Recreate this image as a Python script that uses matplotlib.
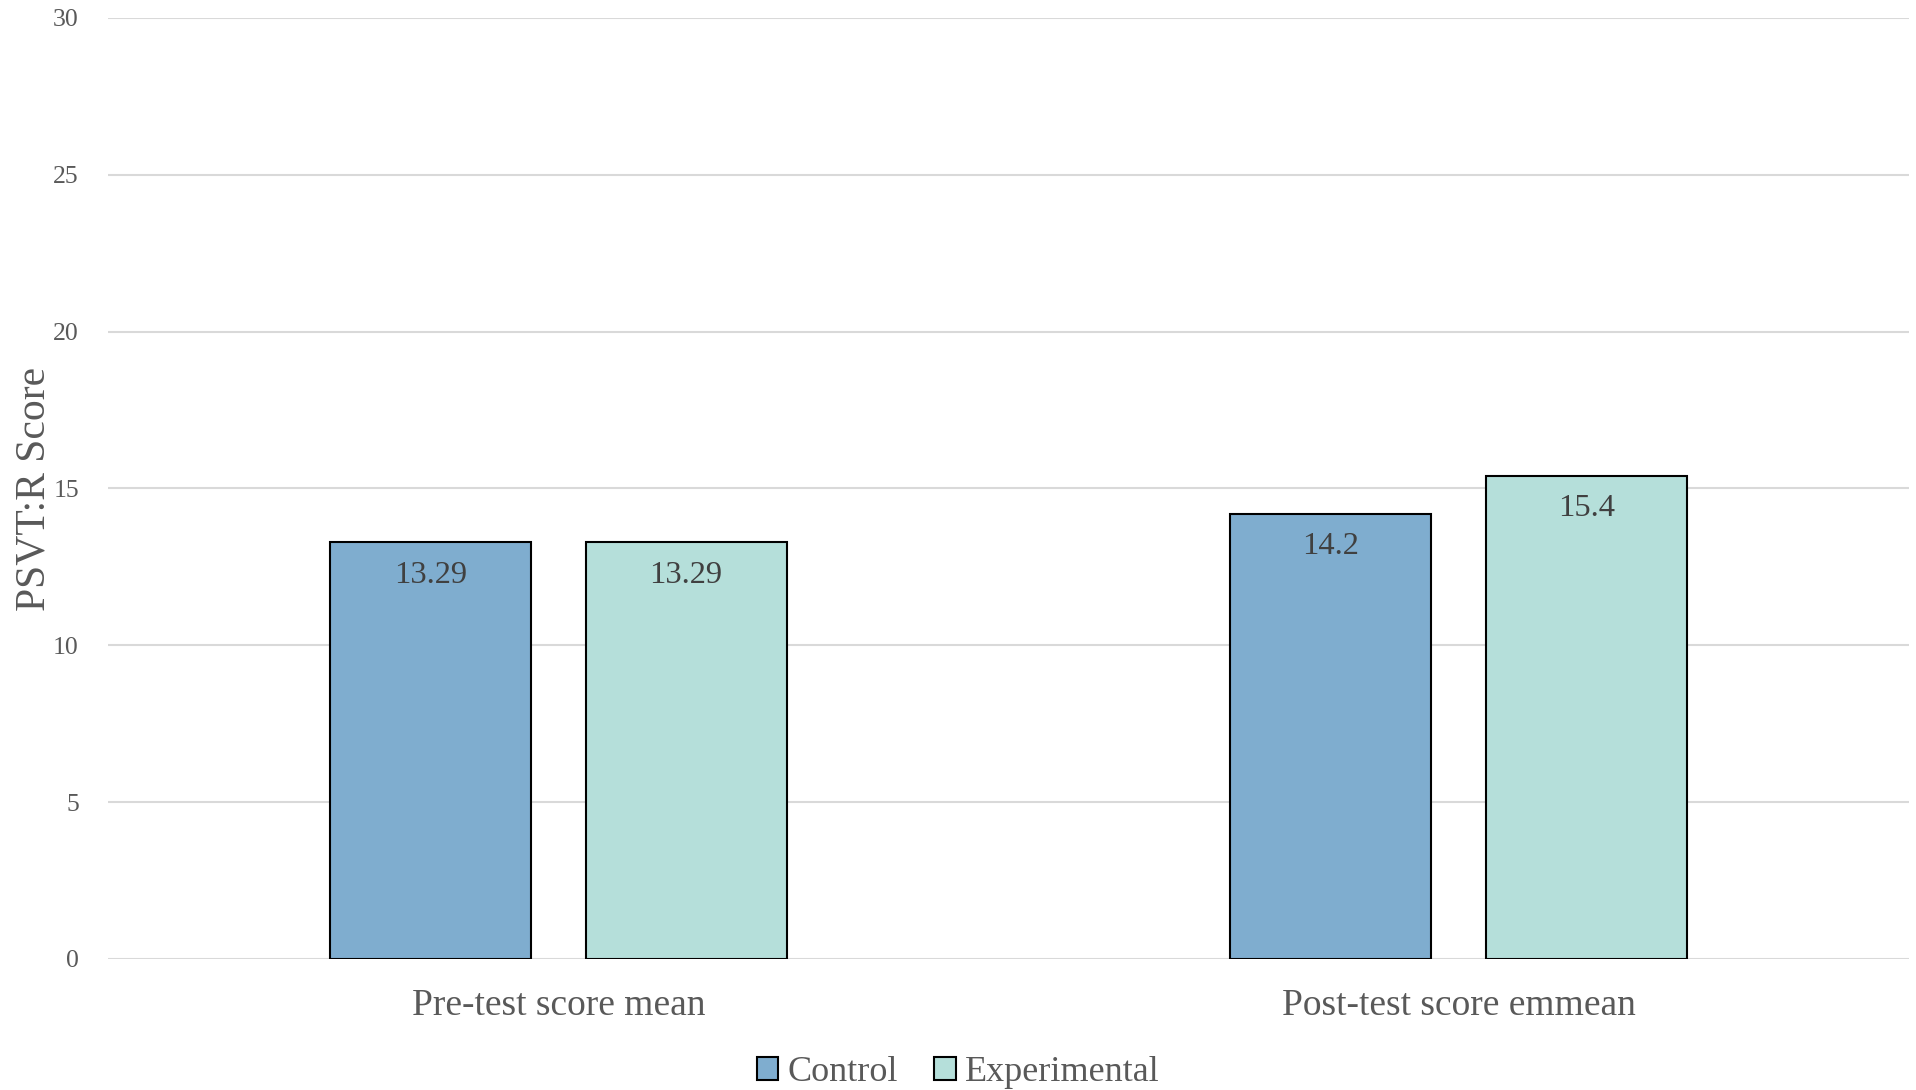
import numpy as np
import matplotlib
matplotlib.use("Agg")
import matplotlib.pyplot as plt
from matplotlib.patches import Patch

categories = ["Pre-test score mean", "Post-test score emmean"]
series_names = ["Control", "Experimental"]
control = [13.29, 14.2]
experimental = [13.29, 15.4]
value_labels = [["13.29", "14.2"], ["13.29", "15.4"]]
yticks = [0, 5, 10, 15, 20, 25, 30]

colors = ["#7FADCF", "#B5DFDA"]
grid_color = "#D9D9D9"
text_grey = "#595959"
label_dark = "#404040"

plt.rcParams["font.family"] = ["Liberation Serif", "DejaVu Serif"]

fig = plt.figure(figsize=(19.16, 10.90), dpi=100)
ax = fig.add_axes([0.0564, 0.1202, 0.9399, 0.8633])

x = np.arange(len(categories))
width = 0.223
offset = 0.142
series = [control, experimental]
for i, vals in enumerate(series):
    pos = x + (i * 2 - 1) * offset
    bars = ax.bar(pos, vals, width=width, color=colors[i], edgecolor="black",
                  linewidth=1.5, zorder=3)
    for b, txt in zip(bars, value_labels[i]):
        ax.annotate(txt, (b.get_x() + b.get_width() / 2, b.get_height()),
                    xytext=(0, -33), textcoords="offset pixels",
                    ha="center", va="center", fontsize=23.4, color=label_dark,
                    zorder=4)

ax.set_xlim(-0.5, 1.5)
ax.set_ylim(0, 30)
ax.set_yticks(yticks)
ax.set_yticklabels([str(t) for t in yticks], fontsize=18.5, color=text_grey)
ax.tick_params(axis="y", length=0, pad=21)
ax.set_xticks(x)
ax.set_xticklabels(categories, fontsize=27, color=text_grey)
ax.tick_params(axis="x", length=0, pad=21)
ax.grid(axis="y", color=grid_color, linewidth=1.5, zorder=0)
for s in ax.spines.values():
    s.set_visible(False)

ax.set_ylabel("PSVT:R Score", fontsize=30, color=text_grey)
ax.yaxis.label.set_va("center")
ax.yaxis.set_label_coords(-0.041, 0.5)

handles = [Patch(facecolor=colors[i], edgecolor="black", linewidth=1.5,
                 label=series_names[i]) for i in range(2)]
fig.legend(handles=handles, loc="center", bbox_to_anchor=(0.5, 0.016),
           ncol=2, frameon=False, fontsize=26, labelcolor=text_grey,
           handlelength=0.6, handleheight=0.6, handletextpad=0.25,
           columnspacing=1.0)

fig.savefig("out.png", dpi=100)
